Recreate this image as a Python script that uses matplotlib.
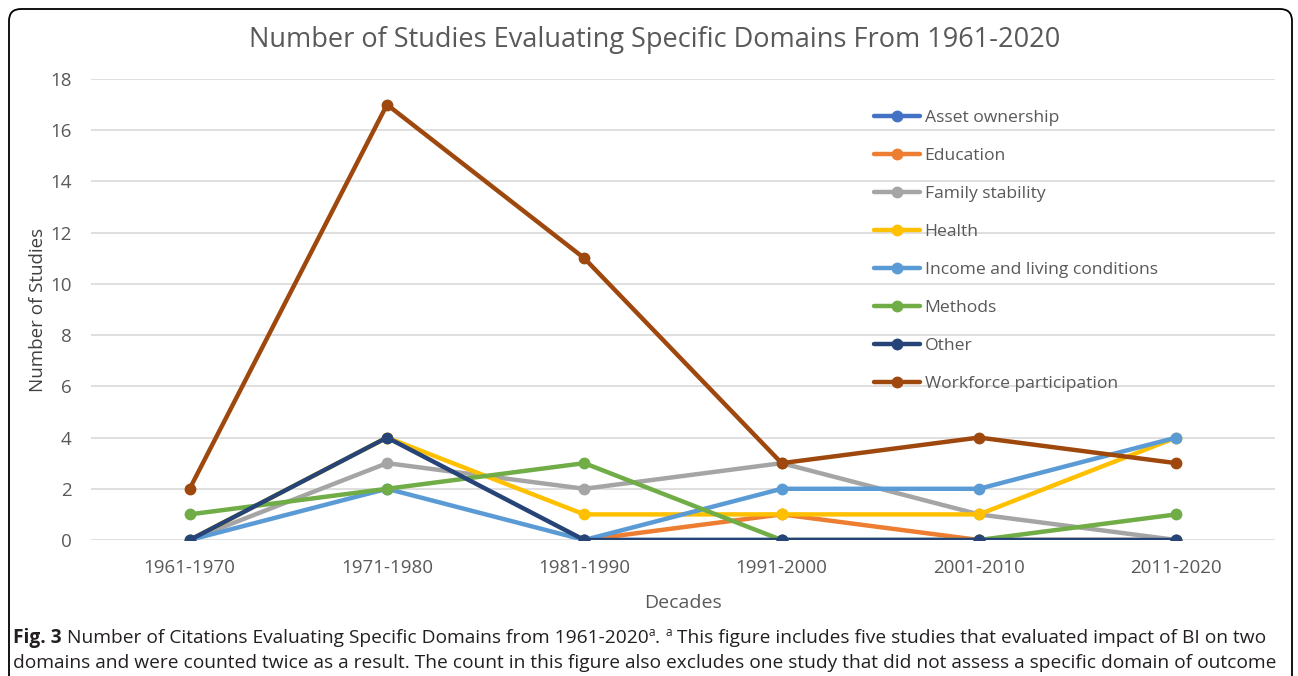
import matplotlib
matplotlib.use('Agg')
import matplotlib.pyplot as plt
from matplotlib.patches import FancyBboxPatch

nan = float('nan')

# data (blank cells = nan, as in the Excel original)
decades = ['1961-1970', '1971-1980', '1981-1990', '1991-2000', '2001-2010', '2011-2020']
asset_ownership = [nan, nan, 0, 0, 0, 0]
education = [nan, nan, 0, 1, 0, 0]
family_stability = [0, 3, 2, 3, 1, 0]
health = [0, 4, 1, 1, 1, 4]
income_living = [0, 2, 0, 2, 2, 4]
methods = [1, 2, 3, 0, 0, 1]
other = [0, 4, 0, 0, 0, 0]
workforce = [2, 17, 11, 3, 4, 3]

series = [
    ('Asset ownership', asset_ownership, '#4472C4'),
    ('Education', education, '#ED7D31'),
    ('Family stability', family_stability, '#A5A5A5'),
    ('Health', health, '#FFC000'),
    ('Income and living conditions', income_living, '#5B9BD5'),
    ('Methods', methods, '#70AD47'),
    ('Other', other, '#264478'),
    ('Workforce participation', workforce, '#9E480E'),
]

plt.rcParams['font.family'] = ['Open Sans', 'DejaVu Sans']
W, H = 1298, 676
fig = plt.figure(figsize=(W / 100, H / 100), dpi=100)
ax = fig.add_axes([91 / W, 136 / H, (1275 - 91) / W, (540 - 79) / H])

x = list(range(len(decades)))
for name, vals, col in series:
    ax.plot(x, vals, color=col, lw=3.2, marker='o', ms=7.5, label=name,
            solid_capstyle='round', solid_joinstyle='round')

ax.set_xlim(-0.5, len(decades) - 0.5)
ax.set_ylim(0, 18)
ax.set_yticks(range(0, 19, 2))
ax.set_xticks(x)
ax.set_xticklabels(decades)
ax.grid(axis='y', color='#D9D9D9', lw=1.2)
ax.set_axisbelow(True)
for s in ax.spines.values():
    s.set_visible(False)
ax.tick_params(axis='x', length=0, colors='#595959', labelsize=13.5, pad=14)
ax.tick_params(axis='y', length=0, colors='#595959', labelsize=13.5, pad=14)
ax.set_xlabel('Decades', fontsize=14, color='#595959', labelpad=12)
ax.set_ylabel('Number of Studies', fontsize=13.5, color='#404040', labelpad=2)

fig.text(655 / W, 1 - 40 / H, 'Number of Studies Evaluating Specific Domains From 1961-2020',
         ha='center', va='center', fontsize=19.5, color='#595959')

ax.legend(loc='upper left', bbox_to_anchor=(874 / W, 1 - 110 / H),
          bbox_transform=fig.transFigure, frameon=False, fontsize=12.6,
          handlelength=2.6, handletextpad=0.3, labelspacing=1.24,
          borderpad=0, borderaxespad=0, labelcolor='#595959')

# caption under the chart
fig.canvas.draw()
r = fig.canvas.get_renderer()
cap = '#231F20'
fs = 13.8


def put(xpx, ypx, s, **kw):
    t = fig.text(xpx / W, 1 - ypx / H, s, ha='left', va='baseline',
                 fontsize=kw.pop('size', fs), color=cap, **kw)
    bb = t.get_window_extent(renderer=r)
    return xpx + bb.width


xp = put(13, 643, 'Fig. 3', weight='bold')
xp = put(xp, 643, ' Number of Citations Evaluating Specific Domains from 1961-2020')
xp = put(xp, 636, 'a', size=8.5)
xp = put(xp, 643, '. ')
xp = put(xp, 636, 'a', size=8.5)
put(xp, 643, ' This figure includes five studies that evaluated impact of BI on two')
put(13, 668, 'domains and were counted twice as a result. The count in this figure also '
             'excludes one study that did not assess a specific domain of outcome')

frame = FancyBboxPatch((9, -30), 1283, 667 + 30, boxstyle='round,pad=0,rounding_size=12',
                       transform=None, fill=False, ec='black', lw=1.3)
fig.patches.append(frame)

fig.savefig('out.png', dpi=100)
